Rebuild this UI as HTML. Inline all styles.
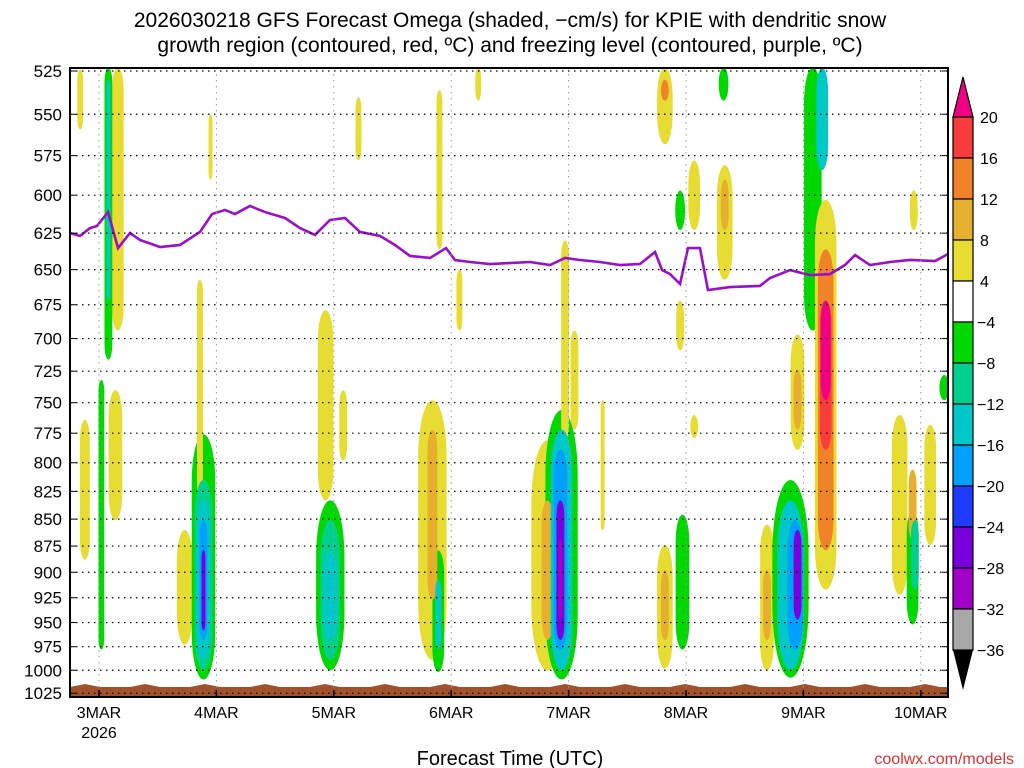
<!DOCTYPE html>
<html><head><meta charset="utf-8"><style>
html,body{margin:0;padding:0;background:#fff;}
svg{display:block;font-family:"Liberation Sans",sans-serif;}
</style></head><body>
<svg id="chart" width="1024" height="768" viewBox="0 0 1024 768" xmlns="http://www.w3.org/2000/svg">
<text x="510" y="27" font-size="21" text-anchor="middle" fill="#000">2026030218 GFS Forecast Omega (shaded, −cm/s) for KPIE with dendritic snow</text>
<text x="510" y="52" font-size="21" text-anchor="middle" fill="#000">growth region (contoured, red, ºC) and freezing level (contoured, purple, ºC)</text>
<g id="plot"></g>
<g id="cbar"></g>
<text x="510" y="765" font-size="20" text-anchor="middle">Forecast Time (UTC)</text>
<text x="1014" y="764" font-size="16" text-anchor="end" fill="#e03030">coolwx.com/models</text>
</svg>
<script>
const pressureTicks=[525,550,575,600,625,650,675,700,725,750,775,800,825,850,875,900,925,950,975,1000,1025];
const dayLabels=["3MAR","4MAR","5MAR","6MAR","7MAR","8MAR","9MAR","10MAR"];
const fzDays=[-0.247,-0.162,-0.077,-0.017,0.077,0.162,0.264,0.349,0.52,0.69,0.86,0.963,1.073,1.158,1.286,1.414,1.584,1.712,1.84,1.968,2.095,2.223,2.394,2.521,2.649,2.82,2.956,3.032,3.16,3.33,3.5,3.671,3.842,3.969,4.097,4.267,4.438,4.608,4.736,4.796,4.864,4.949,5.017,5.119,5.187,5.375,5.63,5.716,5.886,6.056,6.227,6.354,6.44,6.567,6.738,6.908,7.121,7.232];
const fzHpa=[624.9,626.9,621.6,620.2,611,635.1,624.9,629.6,634.4,633,624.2,612.3,609.6,612.3,607,611,614.9,621.6,626.2,616.2,614.9,624.2,626.9,633,640.5,641.9,635.1,643.3,644.7,646.1,645.4,644.7,646.8,641.9,643.3,644.7,646.8,646.1,637.8,650.3,653.1,660.1,635.1,635.1,664.4,662.3,661.5,655.9,650.3,653.8,653.1,646.8,639.9,646.8,644.7,643.3,644,639.2];
const blobDay=[0.16,-0.16,-0.12,0.14,0.08,0.08,0.02,0.73,0.89,0.89,0.89,0.89,0.89,0.86,0.95,1.93,2.08,1.97,1.97,1.97,2.90,2.84,2.84,2.89,2.89,3.07,3.82,3.82,3.94,3.94,3.93,3.93,3.93,3.97,4.05,4.82,4.82,4.97,4.95,5.07,4.95,5.07,5.33,5.33,4.82,4.82,5.32,5.69,5.69,5.89,5.89,5.93,5.95,5.95,5.95,6.08,6.16,6.19,6.19,6.19,6.19,6.82,6.93,6.93,6.95,7.08,7.20,6.94,2.21,3.23,4.29];
const blobTop=[523,524,764,740,523,530,732,860,776,815,833,851,879,657,550,679,740,833,851,879,536,748,772,879,907,650,781,833,756,772,789,833,869,630,694,874,898,846,672,760,597,578,581,590,523,530,523,855,898,815,833,851,860,697,724,523,523,603,636,672,672,760,806,842,851,768,728,597,540,523,748];
const blobBot=[694,559,888,851,716,672,978,973,1010,1000,989,968,958,851,590,833,798,1000,989,968,636,989,927,1002,978,694,1000,968,1010,1000,978,968,947,781,772,998,968,978,709,779,623,623,657,623,568,542,542,1000,968,1008,1000,978,947,789,772,694,584,917,879,789,748,922,869,952,917,874,748,623,578,542,860];
const blobHalfHours=[1.2,0.6,1.0,1.4,0.8,0.4,0.6,1.6,2.4,1.8,1.4,0.8,0.4,0.6,0.4,1.6,0.8,2.9,2.0,1.4,0.6,2.9,1.0,1.2,0.6,0.6,3.3,1.2,3.3,2.2,1.4,0.8,0.4,0.8,0.8,1.6,0.8,1.4,0.8,0.8,1.0,1.2,1.6,0.8,1.6,0.8,1.0,1.4,0.8,3.7,2.7,1.6,0.8,1.4,0.8,1.8,1.2,2.2,1.6,1.2,1.0,1.6,0.8,1.2,0.8,1.2,1.0,0.8,0.6,0.6,0.4];
const blobOmega=[6,6,6,6,-6,-14,-6,6,-6,-10,-14,-18,-26,6,6,6,6,-6,-10,-14,6,6,10,-6,-12,6,6,10,-6,-14,-18,-26,-30,6,6,6,10,-6,6,6,-6,6,6,10,6,14,-6,6,10,-6,-14,-18,-26,6,10,-6,-14,6,14,18,22,6,10,-6,-10,6,-6,6,6,6,6];
const cbarLabels=["20","16","12","8","4","−4","−8","−12","−16","−20","−24","−28","−32","−36"];
const cbarColors=["#f83c3c","#f08228","#e6af2d","#e6dc32","#ffffff","#00d800","#00d08c","#00c8c8","#00a0ff","#1e3cff","#7800dc","#a000c8","#a8a8a8"];

const NS="http://www.w3.org/2000/svg";
const L=70,R=948,T=68,B=697,X0=99,DAYPX=117.4;
function xs(d){return X0+d*DAYPX;}
function ys(p){return 71+930*Math.log(p/525);}
function mk(tag,attrs,parent){const e=document.createElementNS(NS,tag);for(const k in attrs)e.setAttribute(k,attrs[k]);parent.appendChild(e);return e;}
function col(v){
 if(v>=20)return "#f00082";if(v>=16)return "#fa3c3c";if(v>=12)return "#f08228";if(v>=8)return "#e6af2d";if(v>=4)return "#e6dc32";
 if(v<=-32)return "#a8a8a8";if(v<=-28)return "#a000c8";if(v<=-24)return "#7800dc";if(v<=-20)return "#1e3cff";if(v<=-16)return "#00a0ff";if(v<=-12)return "#00c8c8";if(v<=-8)return "#00d08c";return "#00d800";}
const plot=document.getElementById('plot');
const defs=mk('defs',{},plot);
const cp=mk('clipPath',{id:'pc'},defs);mk('rect',{x:L,y:T,width:R-L,height:B-T},cp);
const g=mk('g',{'clip-path':'url(#pc)'},plot);
const idx=blobDay.map((_,i)=>i).sort((a,b)=>Math.abs(blobOmega[a])-Math.abs(blobOmega[b]));
idx.forEach(i=>{
 const hw=blobHalfHours[i]/24*DAYPX;const y1=ys(blobTop[i]),y2=ys(blobBot[i]);
 const r=mk('rect',{x:xs(blobDay[i])-hw,y:y1,width:2*hw,height:y2-y1,rx:hw,ry:Math.min(hw*4,(y2-y1)/2),fill:col(blobOmega[i])},g);
 
 
});
const gp=mk('path',{d:'M'+L+' 697 L'+L+' 687 '+Array.from({length:60},(_,k)=>{const x=L+k*15;return 'L'+x+' '+(k%4==1?684:687);}).join(' ')+' L'+R+' 686 L'+R+' 697 Z',fill:'#a0522d'},g);


pressureTicks.forEach(p=>{
 const y=ys(p);
 const ln=mk('line',{x1:L,x2:R,y1:y,y2:y,stroke:'#000','stroke-width':1.2,'stroke-dasharray':'1.5 4.5'},plot);
 
 
 const t=mk('text',{x:62,y:y+6,'font-size':17,'text-anchor':'end'},plot);t.textContent=p;
 
 
 mk('line',{x1:L,x2:L+6,y1:y,y2:y,stroke:'#000'},plot);mk('line',{x1:R-6,x2:R,y1:y,y2:y,stroke:'#000'},plot);
});
dayLabels.forEach((d,i)=>{
 const x=xs(i);
 const ln=mk('line',{x1:x,x2:x,y1:T,y2:B,stroke:'#999','stroke-width':1,'stroke-dasharray':'1.5 4.5'},plot);
 
 
 mk('line',{x1:x,x2:x,y1:B,y2:B-7,stroke:'#000','stroke-width':1.5},plot);
 const t=mk('text',{x:x,y:718,'font-size':16,'text-anchor':'middle'},plot);t.textContent=d;
 
 
});
const yr=mk('text',{x:xs(0),y:738,'font-size':16,'text-anchor':'middle'},plot);yr.textContent='2026';


const fl=mk('polyline',{points:fzDays.map((d,i)=>xs(d)+','+ys(fzHpa[i])).join(' '),fill:'none',stroke:'#9a10c8','stroke-width':2.6},g);


const box=mk('rect',{x:L,y:T,width:R-L,height:B-T,fill:'none',stroke:'#000','stroke-width':2},plot);


const cb=document.getElementById('cbar');
const CX=953,CW=20,CT=117,CH=41;
mk('polygon',{points:`${CX},${CT} ${CX+CW},${CT} ${CX+CW/2},77`,fill:'#f00082',stroke:'#000','stroke-width':1.2},cb);
cbarColors.forEach((c,i)=>{
 const r=mk('rect',{x:CX,y:CT+i*CH,width:CW,height:CH,fill:c,stroke:'#000','stroke-width':1.2},cb);
 
 
});
const cbB=CT+cbarColors.length*CH;
mk('polygon',{points:`${CX},${cbB} ${CX+CW},${cbB} ${CX+CW/2},690`,fill:'#000'},cb);
cbarLabels.forEach((l,i)=>{
 const t=mk('text',{x:l.startsWith('−')?977:980,y:CT+i*CH+6,'font-size':16},cb);t.textContent=l;
 
 
});
</script>
</body></html>
